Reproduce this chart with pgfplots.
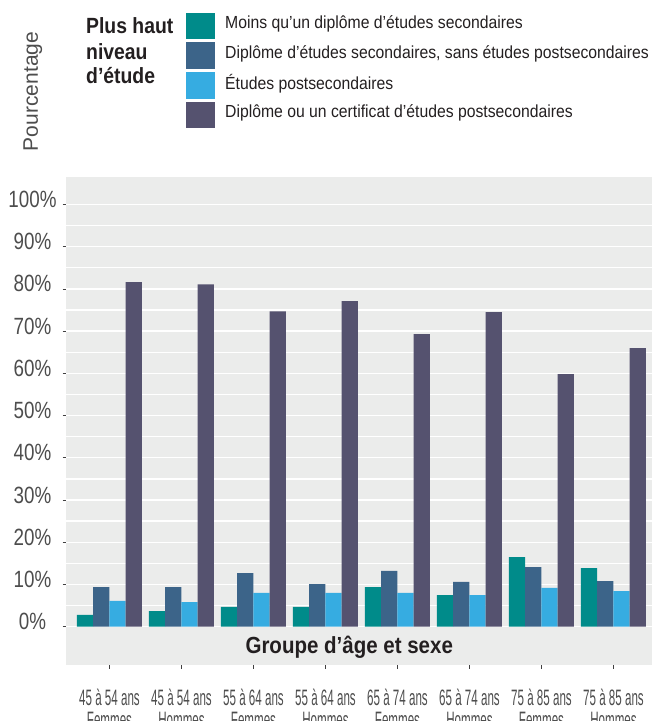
\documentclass[border=0pt]{standalone}
\usepackage{fontspec}
\setmainfont{Liberation Sans}
\newfontfamily\legfont{Liberation Sans}[FakeStretch=0.9]
\newfontfamily\tickfont{Liberation Sans}[FakeStretch=0.8]
\newfontfamily\xfont{Liberation Sans}[FakeStretch=0.52]
\newfontfamily\headfont{Liberation Sans}[FakeStretch=0.88]
\usepackage{pgfplots}
\usepackage{pgfplotstable}
\pgfplotsset{compat=1.18}

\definecolor{cteal}{HTML}{008B8A}
\definecolor{cblue}{HTML}{3C6489}
\definecolor{clight}{HTML}{36ACE1}
\definecolor{cpurple}{HTML}{55526F}
\definecolor{bgc}{HTML}{EBECEB}
\definecolor{ticktext}{HTML}{4D4D4D}
\definecolor{darktext}{HTML}{231F20}

\pgfplotsset{
  sqleg/.style={legend image code/.code={%
    \fill[##1,overlay] (0pt,-16.05pt) rectangle (29pt,10.65pt);
    \path[fill=none,draw=none] (0pt,-14.85pt) rectangle (39pt,14.85pt);}},
}

% groupe, moins que sec., sec., postsec., diplome postsec.
\pgfplotstableread{
x teal blue light purple
0 2.8  9.4  6.1 81.6
1 3.7  9.4  5.8 81.1
2 4.7  12.7 8.0 74.7
3 4.7  10.1 8.0 77.1
4 9.4  13.2 8.0 69.3
5 7.5  10.6 7.5 74.5
6 16.5 14.1 9.2 59.8
7 13.9 10.8 8.4 66.0
}\data

\begin{document}
\begin{tikzpicture}[x=1pt,y=1pt]
\begin{axis}[
  at={(66pt,56pt)}, anchor=south west,
  scale only axis, width=586pt, height=488pt,
  xmin=-0.604, xmax=7.535, ymin=-9.07, ymax=106.5,
  ybar=0pt, bar width=16.25pt,
  axis background/.style={fill=bgc},
  axis line style={draw=none},
  xtick={0,...,7},
  xticklabels={{45 à 54 ans\\Femmes},{45 à 54 ans\\Hommes},{55 à 64 ans\\Femmes},{55 à 64 ans\\Hommes},
               {65 à 74 ans\\Femmes},{65 à 74 ans\\Hommes},{75 à 85 ans\\Femmes},{75 à 85 ans\\Hommes}},
  ytick={0,10,...,100},
  yticklabels={0\%,10\%,20\%,30\%,40\%,50\%,60\%,70\%,80\%,90\%,100\%},
  minor ytick={5,15,...,95},
  ymajorgrids, yminorgrids,
  major grid style={white, line width=1.3pt},
  minor grid style={white, line width=1.3pt},
  major tick length=3.5pt, minor tick length=0pt,
  tick align=outside, tick pos=left,
  major tick style={color=black!75, line width=0.6pt},
  xticklabel style={anchor=north, align=center, inner sep=0pt, yshift=-20.5pt,
    font=\xfont\fontsize{22.3}{21.7}\selectfont, text=ticktext},
  yticklabel style={anchor=center, inner sep=0pt, xshift=-30pt, yshift=5pt,
    font=\tickfont\fontsize{23.5}{24}\selectfont, text=ticktext},
  legend cell align=left,
  legend style={at={(0,1)}, anchor=north west, xshift=120pt, yshift=168.85pt,
    draw=none, fill=none, inner sep=0pt, row sep=0pt, column sep=0pt,
    nodes={inner sep=0pt, anchor=west},
    font=\legfont\fontsize{17.5}{20}\selectfont, text=darktext},
]
\addplot[fill=cteal, draw=none, sqleg] table[x=x, y=teal] {\data};
\addlegendentry{Moins qu’un diplôme d’études secondaires}
\addplot[fill=cblue, draw=none, sqleg] table[x=x, y=blue] {\data};
\addlegendentry{Diplôme d’études secondaires, sans études postsecondaires}
\addplot[fill=clight, draw=none, sqleg] table[x=x, y=light] {\data};
\addlegendentry{Études postsecondaires}
\addplot[fill=cpurple, draw=none, sqleg] table[x=x, y=purple] {\data};
\addlegendentry{Diplôme ou un certificat d’études postsecondaires}

\node[anchor=base, font=\headfont\bfseries\fontsize{23.3}{24}\selectfont, text=darktext]
  at (axis cs:3.33,-6.3) {Groupe d’âge et sexe};
\end{axis}

\node[rotate=90, anchor=base, inner sep=0pt, font=\fontsize{21}{22}\selectfont, text=ticktext]
  at (38,629.5) {Pourcentage};
\begin{scope}[every node/.style={anchor=base west, inner sep=0pt,
    font=\headfont\bfseries\fontsize{22}{24}\selectfont, text=darktext}]
\node at (86,687) {Plus haut};
\node at (86,661.7) {niveau};
\node at (86,637.7) {d’étude};
\end{scope}

\pgfresetboundingbox
\useasboundingbox (0,0) rectangle (652,721);
\end{tikzpicture}
\end{document}
